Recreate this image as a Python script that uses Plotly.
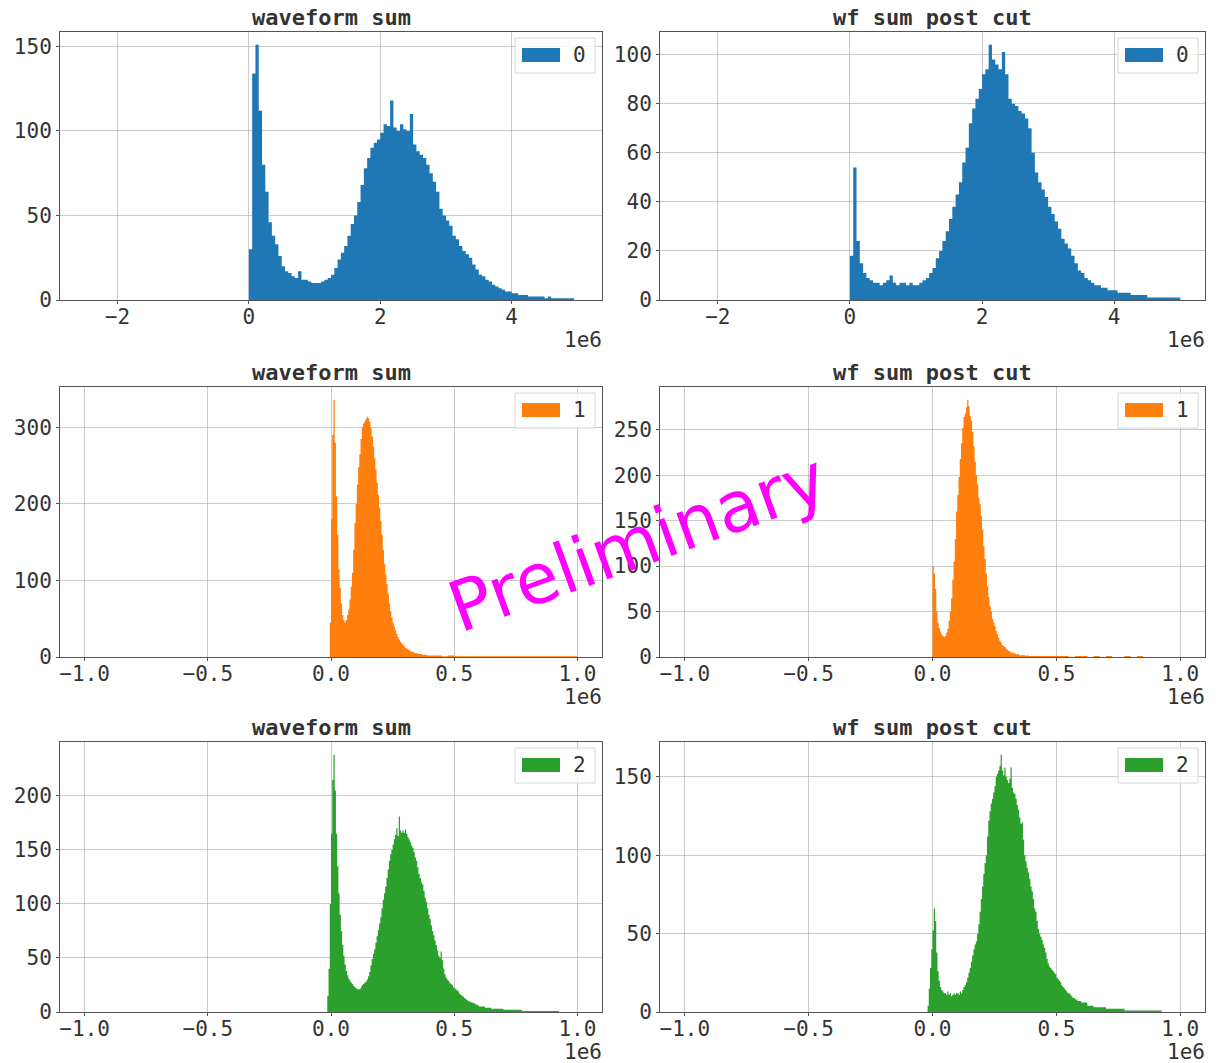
import plotly.graph_objects as go

W, H = 1224, 1063

# ---------------------------------------------------------------- data
# Histogram counts per bin. Each panel: (first bin edge, bin width, counts),
# plus a coarser tail section for the long sparse right-hand tail.

# channel 0 : bins of 50k from 0 to 5e6
ch0_start, ch0_bw = 0.0, 50_000.0
ch0_wf_counts = [
    30, 134, 151, 112, 80, 64, 46, 38, 33, 26,
    20, 17, 16, 14, 13, 17, 12, 12, 11, 10,
    10, 10, 11, 12, 13, 15, 19, 24, 28, 32,
    38, 45, 50, 58, 68, 78, 84, 90, 93, 95,
    99, 104, 103, 118, 102, 100, 104, 101, 100, 110,
    92, 88, 86, 84, 80, 75, 70, 64, 54, 50,
    47, 44, 38, 36, 32, 29, 27, 25, 21, 18,
    15, 14, 12, 11, 9, 8, 7, 6, 5, 5,
    4, 4, 3, 3, 3, 2, 2, 2, 2, 2,
    1, 2, 1, 1, 1, 1, 1, 1, 1, 0,
]
ch0_cut_counts = [
    18, 54, 24, 15, 11, 9, 8, 7, 7, 6,
    7, 8, 10, 7, 6, 7, 7, 6, 7, 6,
    6, 7, 8, 9, 11, 13, 17, 20, 24, 28,
    33, 38, 43, 48, 56, 62, 72, 78, 82, 86,
    92, 94, 104, 98, 96, 94, 101, 92, 82, 80,
    79, 77, 76, 74, 70, 60, 52, 48, 45, 42,
    38, 35, 32, 29, 25, 23, 21, 18, 15, 12,
    11, 9, 8, 7, 6, 6, 5, 5, 4, 4,
    4, 3, 3, 3, 3, 2, 2, 2, 2, 2,
    1, 1, 1, 1, 1, 1, 1, 1, 1, 1,
]

# channel 1 : fine bins of 5k, tail bins of 25k from 0.4e6
ch1_fine_bw, ch1_tail_bw = 5_000.0, 25_000.0
ch1_wf_start = -5_000.0
ch1_wf_counts = [
    45,
    180, 290, 336, 280, 210, 160, 115, 90, 70, 55,
    48, 45, 48, 55, 62, 75, 92, 110, 140, 175,
    200, 225, 248, 265, 285, 300, 305, 308, 311, 314,
    312, 308, 300, 288, 275, 260, 245, 228, 212, 195,
    178, 160, 140, 122, 108, 95, 82, 70, 60, 52,
    45, 40, 35, 30, 26, 23, 20, 18, 16, 14,
    12, 11, 10, 9, 8, 7, 7, 6, 5, 5,
    5, 4, 4, 4, 3, 3, 3, 3, 2, 2,
]
ch1_wf_tail_start = 400_000.0
ch1_wf_tail = [2, 2, 1, 2, 1, 1, 1, 1, 1, 1, 1, 1,
               1, 1, 1, 1, 1, 1, 1, 1, 1, 1, 1, 1]

ch1_cut_start = 0.0
ch1_cut_counts = [
    100, 92, 75, 50, 38, 32, 28, 25, 23, 22,
    23, 27, 31, 40, 50, 65, 85, 105, 130, 160,
    178, 198, 218, 235, 252, 264, 268, 275, 283, 276,
    265, 260, 248, 232, 215, 200, 190, 175, 168, 155,
    140, 122, 108, 92, 78, 66, 56, 50, 42, 38,
    34, 29, 25, 21, 18, 16, 13, 12, 11, 9,
    8, 7, 6, 5, 5, 4, 4, 3, 3, 3,
    2, 2, 2, 2, 2, 1, 2, 1, 1, 1,
]
ch1_cut_tail_start = 400_000.0
ch1_cut_tail = [1, 1, 1, 1, 1, 1, 0, 1, 1, 0, 1, 0,
                1, 0, 0, 1, 0, 1, 0, 0, 0, 0, 0, 0]

# channel 2 : fine bins of 5k, tail bins of 25k from 0.6e6
ch2_fine_bw, ch2_tail_bw = 5_000.0, 25_000.0
ch2_wf_start = -15_000.0
ch2_wf_counts = [
    15, 40, 100,
    165, 215, 238, 205, 165, 135, 110, 90, 75, 62,
    52, 44, 38, 34, 31, 29, 27, 26, 24, 23,
    22, 21, 21, 21, 23, 25, 26, 27, 28, 30,
    33, 37, 43, 49, 54, 58, 64, 70, 76, 82,
    88, 96, 104, 110, 116, 124, 132, 140, 146, 150,
    155, 160, 164, 170, 163, 181, 168, 166, 168, 166,
    169, 165, 162, 160, 157, 154, 152, 148, 143, 140,
    134, 128, 124, 120, 118, 112, 106, 102, 96, 90,
    86, 80, 75, 71, 66, 62, 57, 52, 50, 56,
    48, 40, 35, 32, 30, 29, 27, 26, 25, 23,
    22, 21, 20, 19, 17, 16, 15, 14, 13, 12,
    11, 10, 10, 9, 9, 8, 8, 7, 7, 6,
]
ch2_wf_tail_start = 600_000.0
ch2_wf_tail = [5, 4, 3, 3, 2, 2, 2, 1, 1, 1, 1, 1, 1, 0, 0, 0]

ch2_cut_start = -20_000.0
ch2_cut_counts = [
    4, 15, 28, 40,
    52, 66, 58, 38, 26, 20, 16, 14, 13, 12,
    12, 11, 13, 11, 12, 10, 11, 12, 11, 12,
    12, 11, 13, 12, 14, 16, 17, 19, 22, 25,
    28, 32, 36, 40, 43, 45, 50, 56, 64, 72,
    80, 88, 95, 100, 112, 122, 128, 133, 136, 140,
    144, 150, 152, 154, 157, 164, 154, 151, 156, 150,
    148, 146, 149, 156, 143, 140, 139, 136, 132, 129,
    124, 120, 121, 110, 100, 96, 92, 89, 85, 80,
    77, 72, 66, 64, 58, 53, 50, 48, 46, 43,
    41, 38, 34, 31, 29, 28, 27, 26, 25, 24,
    22, 21, 20, 19, 17, 16, 15, 14, 13, 12,
    12, 11, 10, 9, 9, 8, 8, 7, 7, 7,
]
ch2_cut_tail_start = 600_000.0
ch2_cut_tail = [6, 4, 3, 3, 2, 2, 2, 1, 1, 1, 1, 1, 1, 0, 0, 0]

titles = ["waveform sum", "wf sum post cut"]
labels = ["0", "1", "2"]
colors = ["#1f77b4", "#ff7f0e", "#2ca02c"]

# histogram ranges per row (sets the autoscaled x limits)
hist_ranges = [(-2.5e6, 5.0e6), (-1.0e6, 1.0e6), (-1.0e6, 1.0e6)]
xtick_vals = [[-2e6, 0, 2e6, 4e6],
              [-1e6, -0.5e6, 0, 0.5e6, 1e6],
              [-1e6, -0.5e6, 0, 0.5e6, 1e6]]
xtick_text = [["\u22122", "0", "2", "4"],
              ["\u22121.0", "\u22120.5", "0.0", "0.5", "1.0"],
              ["\u22121.0", "\u22120.5", "0.0", "0.5", "1.0"]]
ytick_vals = [[[0, 50, 100, 150], [0, 20, 40, 60, 80, 100]],
              [[0, 100, 200, 300], [0, 50, 100, 150, 200, 250]],
              [[0, 50, 100, 150, 200], [0, 50, 100, 150]]]

# sections per panel: list of (start, bin width, counts)
panels = [
    [[(ch0_start, ch0_bw, ch0_wf_counts)],
     [(ch0_start, ch0_bw, ch0_cut_counts)]],
    [[(ch1_wf_start, ch1_fine_bw, ch1_wf_counts),
      (ch1_wf_tail_start, ch1_tail_bw, ch1_wf_tail)],
     [(ch1_cut_start, ch1_fine_bw, ch1_cut_counts),
      (ch1_cut_tail_start, ch1_tail_bw, ch1_cut_tail)]],
    [[(ch2_wf_start, ch2_fine_bw, ch2_wf_counts),
      (ch2_wf_tail_start, ch2_tail_bw, ch2_wf_tail)],
     [(ch2_cut_start, ch2_fine_bw, ch2_cut_counts),
      (ch2_cut_tail_start, ch2_tail_bw, ch2_cut_tail)]],
]

# ---------------------------------------------------------------- layout
cols_px = [(60, 602), (660, 1205)]
rows_px = [(32, 300), (387, 657), (742, 1012)]

TICK_FONT = dict(family="DejaVu Sans Mono", size=21, color="#333333")
SPINE = "#555555"
GRID = "rgba(160,160,160,0.55)"


def px(x):
    return x / W


def py(y):
    return 1 - y / H


fig = go.Figure()
layout = dict(
    width=W, height=H, autosize=False,
    margin=dict(l=0, r=0, t=0, b=0, pad=0),
    paper_bgcolor="white", plot_bgcolor="white",
    showlegend=False,
)
annotations = []
shapes = []

n = 0
for r in range(3):
    for c in range(2):
        n += 1
        xa = "x" if n == 1 else f"x{n}"
        ya = "y" if n == 1 else f"y{n}"
        L, R = cols_px[c]
        T, B = rows_px[r]

        # step outline of the histogram: left bin edges with their counts,
        # closed by the right edge of the last bin
        edges, heights = [], []
        for start, bw, counts in panels[r][c]:
            for k, v in enumerate(counts):
                edges.append(start + bw * k)
                heights.append(v)
            last_edge = start + bw * len(counts)
        edges.append(last_edge)
        heights.append(heights[-1])
        fig.add_trace(go.Scatter(
            x=edges, y=heights, xaxis=xa, yaxis=ya, mode="lines",
            line=dict(shape="hv", width=0, color=colors[r]),
            fill="tozeroy", fillcolor=colors[r], hoverinfo="skip",
        ))

        lo, hi = hist_ranges[r]
        pad = 0.05 * (hi - lo)
        ymax = max(heights) * 1.05

        axis_common = dict(
            showline=True, mirror=True, linecolor=SPINE, linewidth=1,
            showgrid=True, gridcolor=GRID, gridwidth=1,
            ticks="outside", ticklen=3, tickcolor=SPINE, tickwidth=1,
            tickfont=TICK_FONT, zeroline=False, layer="above traces",
            fixedrange=True, automargin=False,
        )
        layout["xaxis" if n == 1 else f"xaxis{n}"] = dict(
            axis_common, domain=[px(L), px(R)], anchor=ya,
            range=[lo - pad, hi + pad], ticklabelstandoff=-5,
            tickmode="array", tickvals=xtick_vals[r], ticktext=xtick_text[r],
        )
        layout["yaxis" if n == 1 else f"yaxis{n}"] = dict(
            axis_common, domain=[py(B), py(T)], anchor=xa,
            range=[0, ymax],
            tickmode="array", tickvals=ytick_vals[r][c],
            ticktext=[str(v) for v in ytick_vals[r][c]],
        )

        # panel title
        annotations.append(dict(
            text=f"<b>{titles[c]}</b>", x=px((L + R) / 2), y=py(T - 15),
            xref="paper", yref="paper", xanchor="center", yanchor="middle",
            showarrow=False,
            font=dict(family="DejaVu Sans Mono", size=22, color="#333333"),
        ))
        # axis offset label
        annotations.append(dict(
            text="1e6", x=px(R + 2), y=py(B + 40), xref="paper", yref="paper",
            xanchor="right", yanchor="middle", showarrow=False, font=TICK_FONT,
        ))
        # legend frame, colour patch and label
        shapes.append(dict(
            type="rect", xref="paper", yref="paper",
            x0=px(R - 87), x1=px(R - 7), y0=py(T + 41), y1=py(T + 6),
            line=dict(color="#d6d6d6", width=1),
            fillcolor="rgba(255,255,255,0.8)", layer="above",
        ))
        shapes.append(dict(
            type="rect", xref="paper", yref="paper",
            x0=px(R - 80), x1=px(R - 42), y0=py(T + 30), y1=py(T + 16),
            line=dict(width=0), fillcolor=colors[r], layer="above",
        ))
        annotations.append(dict(
            text=labels[r], x=px(R - 23), y=py(T + 23),
            xref="paper", yref="paper", xanchor="center", yanchor="middle",
            showarrow=False, font=TICK_FONT,
        ))

# watermark
annotations.append(dict(
    text="Preliminary", x=px(637), y=py(543), xref="paper", yref="paper",
    xanchor="center", yanchor="middle", showarrow=False, textangle=-20,
    font=dict(family="DejaVu Sans", size=70, color="#ff00ff"),
))

layout["annotations"] = annotations
layout["shapes"] = shapes
fig.update_layout(**layout)
fig.write_html("out.html", config={"responsive": False},
               default_width=f"{W}px", default_height=f"{H}px")
